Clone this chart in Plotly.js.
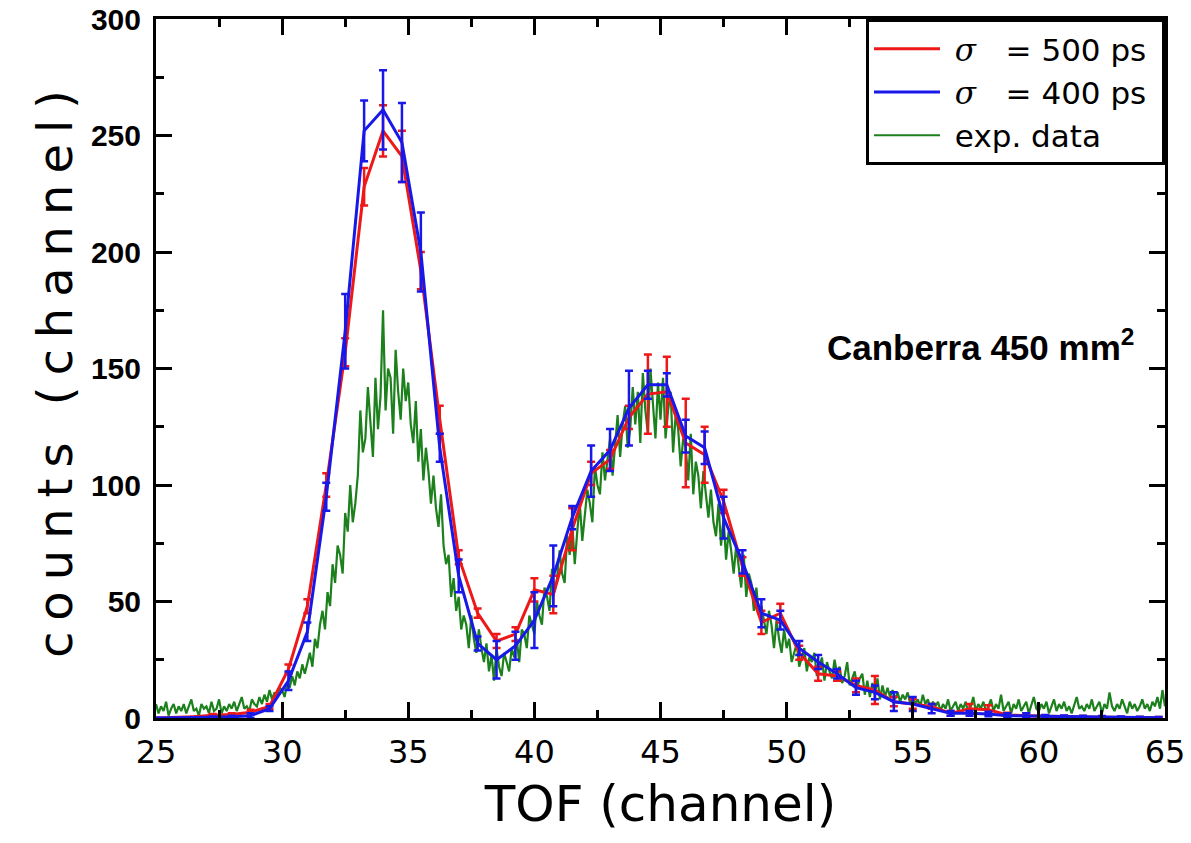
<!DOCTYPE html>
<html>
<head>
<meta charset="utf-8">
<script src="https://cdn.plot.ly/plotly-3.0.1.min.js"></script>
<style>
html,body{margin:0;padding:0;background:#fff;}
#chart{width:1191px;height:843px;}
.ytitle{letter-spacing:11px;}
</style>
</head>
<body>
<div id="chart"></div>
<script>
// ---- model curves (grid start 25, step 0.75 channel) ----
const modelStart = 25, modelStep = 0.75;
const sigma500 = [0,0.2,0.5,1.2,1.5,2.5,5,21,48,100,157,228,252,241,192,128,69,45,33,36,55,53,81,105,111,129,139,140,118,113,93,65,41,45,28,19,18,14,12,7,6,5,2,4,3.5,1.3,1,0.7,0.5,0.4,0.3,0.2,0.1,0.1];
const sigma500Err = [0,0,0,0.5,0.5,1,1,2,3,5,6,8,11,11,8,6,3,2,3,3,5,8,9,5,4,5,17,15,19,12,5,4,5,4,3,3,2,3,6,2,2,1,1,2,2,1,1,0.5,0.5,0.5,0.5,0.3,0.3,0.3];
const sigma400 = [0,0,0.1,0.3,0.5,1,4,16,37,95,166,252,261,247,200,116,61,32,25,31,42,61,86,106,115,133,143,143,121,116,86,67,45,42,30,24,19,13,11,7,6,4,2,2,1.7,1,1,0.8,0.6,0.5,0.4,0.3,0.2,0.1];
const sigma400Err = [0,0,0,0.3,0.5,1,1,4,4,6,16,13,17,17,17,6,7,3,8,6,12,13,5,11,9,16,6,5,7,7,9,5,6,4,3,3,2,3,3,4,3,2,1,1,1,1,1,0.5,0.5,0.5,0.5,0.3,0.3,0.3];

// ---- experimental data (grid start 25, step 0.1 channel) ----
const expStart = 25, expStep = 0.1;
const expData = [
6,2,5,3,7,1,4,6,2,5,
3,6,2,5,8,3,4,1,6,4,
5,2,7,3,4,8,2,5,3,6,
4,7,3,6,9,4,5,3,8,6,
5,9,6,10,7,12,8,11,9,13,
12,9,15,13,18,14,20,17,23,19,
24,28,22,34,30,40,46,38,54,48,
66,58,74,70,62,88,80,100,84,92,
104,132,114,120,142,128,112,146,124,138,
175,132,150,146,122,158,140,128,150,136,
144,126,118,136,110,124,102,116,106,92,
104,90,82,96,74,66,70,52,60,46,
52,38,44,40,30,44,34,28,38,30,
24,32,20,27,16,30,22,18,28,24,
20,30,26,34,24,38,36,30,44,40,
36,50,44,40,56,52,46,64,54,60,
72,62,58,78,70,84,66,80,92,76,
86,98,92,84,108,100,96,114,102,110,
120,104,116,130,112,126,134,116,124,142,
126,140,118,148,132,122,150,136,120,144,
128,146,120,132,140,114,130,124,108,120,
116,102,122,96,110,104,90,106,96,86,
98,84,78,92,74,86,68,80,72,62,
74,66,56,70,52,62,58,46,56,44,
48,42,36,46,40,30,42,34,28,38,
30,34,24,28,32,22,26,30,20,26,
24,28,18,22,26,16,24,20,17,25,
19,22,15,18,24,14,17,20,13,17,
19,10,16,9,15,10,17,8,14,9,
13,9,12,8,11,7,10,8,11,6,
9,6,8,5,10,6,8,4,7,5,
7,3,6,4,8,3,5,7,3,6,
4,7,2,5,9,3,6,4,7,3,
5,8,3,6,4,10,3,5,7,2,
6,4,8,3,5,7,2,6,9,4,
3,6,4,7,2,5,8,3,6,4,
7,3,5,2,6,9,4,5,3,6,
4,8,3,5,7,2,6,4,11,5,
3,6,4,8,5,2,7,4,6,3,
5,8,4,6,3,7,5,9,4,12,
5];

const SIG = "<span style='font-family:DejaVu Serif'><i>σ</i></span>";
const legendNames = ["\u00a0" + SIG + "\u00a0\u00a0\u00a0= 500 ps\u00a0",
                     "\u00a0" + SIG + "\u00a0\u00a0\u00a0= 400 ps\u00a0",
                     "\u00a0exp. data"];
const xTitle = "TOF (channel)";
const yTitle = "counts (channel)";
const labelText = "<b>Canberra 450 mm<sup>2</sup></b>";
const labelPos = {x: 57.7, y: 160};

const modelX = sigma500.map((_, i) => +(modelStart + i * modelStep).toFixed(2));
const expX = expData.map((_, i) => +(expStart + i * expStep).toFixed(2));

const RED = 'rgb(238,24,24)', BLUE = 'rgb(24,24,232)', GREEN = 'rgb(28,128,28)';

const traces = [
  {x: expX, y: expData, type: 'scatter', mode: 'lines', name: legendNames[2], legendrank: 3,
   line: {color: GREEN, width: 2.2}},
  {x: modelX, y: sigma500, type: 'scatter', mode: 'lines', name: legendNames[0], legendrank: 1,
   line: {color: RED, width: 3},
   error_y: {type: 'data', array: sigma500Err, visible: true, color: RED, thickness: 2.5, width: 4}},
  {x: modelX, y: sigma400, type: 'scatter', mode: 'lines', name: legendNames[1], legendrank: 2,
   line: {color: BLUE, width: 3},
   error_y: {type: 'data', array: sigma400Err, visible: true, color: BLUE, thickness: 2.5, width: 4}}
];

const axisCommon = {
  showline: true, linecolor: '#000', linewidth: 3, mirror: 'allticks',
  ticks: 'inside', tickcolor: '#000', tickwidth: 3, ticklen: 16,
  showgrid: false, zeroline: false
};

const layout = {
  width: 1191, height: 843,
  paper_bgcolor: '#fff', plot_bgcolor: '#fff',
  margin: {l: 156, r: 26, t: 19, b: 125},
  showlegend: true,
  legend: {x: 1, y: 1, xanchor: 'right', yanchor: 'top', bgcolor: '#fff',
           bordercolor: '#000', borderwidth: 3, itemwidth: 66,
           font: {family: 'DejaVu Sans', size: 31, color: '#000'},
           tracegroupgap: 0},
  xaxis: Object.assign({}, axisCommon, {
    range: [25, 65], tick0: 25, dtick: 5,
    minor: {dtick: 2.5, ticks: 'inside', ticklen: 8, tickwidth: 3, tickcolor: '#000'},
    tickfont: {family: 'DejaVu Sans', size: 32, color: '#000'},
    ticklabelstandoff: 4,
    title: {text: xTitle, font: {family: 'DejaVu Sans', size: 50, color: '#000'}, standoff: 16}
  }),
  yaxis: Object.assign({}, axisCommon, {
    range: [0, 300], tick0: 0, dtick: 50,
    minor: {dtick: 25, ticks: 'inside', ticklen: 8, tickwidth: 3, tickcolor: '#000'},
    tickfont: {family: 'Liberation Sans', size: 30, color: '#000', weight: 'bold'},
    ticklabelstandoff: 6,
    title: {text: yTitle, font: {family: 'DejaVu Sans', size: 48, color: '#000'}, standoff: 4}
  }),
  annotations: [{
    x: labelPos.x, y: labelPos.y, xref: 'x', yref: 'y', text: labelText, showarrow: false,
    font: {family: 'Liberation Sans', size: 35, color: '#000'}, xanchor: 'center', yanchor: 'middle'
  }]
};

Plotly.newPlot('chart', traces, layout, {staticPlot: true, displayModeBar: false});
</script>
</body>
</html>
